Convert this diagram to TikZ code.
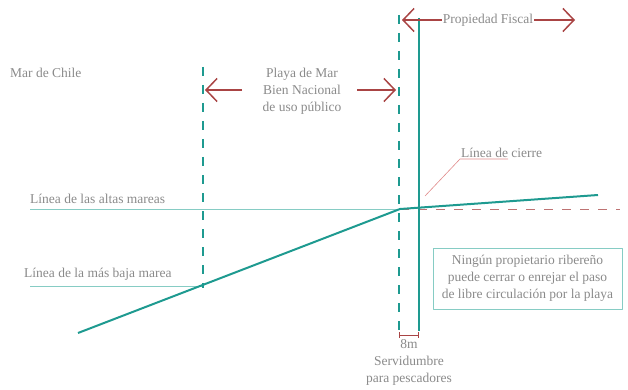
\documentclass[tikz,border=0pt]{standalone}
\usepackage{fontspec}
\setmainfont{Liberation Serif}
\usetikzlibrary{arrows.meta}
\definecolor{mar}{HTML}{1E9A90}
\definecolor{marclaro}{HTML}{86CCC4}
\definecolor{rojo}{HTML}{A94444}
\definecolor{rosa}{HTML}{E08A8A}
\definecolor{texto}{HTML}{8A8A8A}
\tikzset{>={Straight Barb[length=11pt,width=23pt]}}
\tikzset{
    etiqueta/.style={text=texto, font=\fontsize{13.5}{17}\selectfont, inner sep=1pt},
    limite/.style={mar, line width=2pt, dash pattern=on 9pt off 9pt},
    flecha/.style={->, rojo, line width=1.5pt},
}

\begin{document}
\begin{tikzpicture}[x=1pt, y=-1pt, line join = round]
    \useasboundingbox (0,0) rectangle (628,390);
    % lineas de marea
    \coordinate (alta0) at (30,209);
    \coordinate (cruce) at (400,209);
    \coordinate (alta1) at (598,195);
    \coordinate (baja0) at (30,286);
    \coordinate (baja1) at (203,286);
    \coordinate (playa0) at (78,333);
    \draw[marclaro, line width=1pt] (alta0) -- (cruce);
    \draw[marclaro, line width=1pt] (baja0) -- (baja1);
    \draw[rojo!75, line width=1pt, dash pattern=on 9pt off 9pt] (cruce) -- (620,209);
    \draw[mar, line width=2pt] (playa0) -- (cruce) -- (alta1);
    % limites verticales
    \draw[limite] (203,67) -- (203,288);
    \draw[limite] (399,15) -- (399,331);
    \draw[mar, line width=2pt] (419,18) -- (419,331);
    % textos
    \node[etiqueta, anchor=west] (chile) at (9,73) {Mar de Chile};
    \node[etiqueta, anchor=south west] (altas) at (29,205) {Línea de las altas mareas};
    \node[etiqueta, anchor=south west] (bajas) at (23,282) {Línea de la más baja marea};
    \node[etiqueta, align=center] (playa) at (302,91) {Playa de Mar\\Bien Nacional\\de uso público};
    \node[etiqueta] (fiscal) at (488,20) {Propiedad Fiscal};
    \draw[flecha] (fiscal.west) -- (402,20);
    \draw[flecha] (fiscal.east) -- (575,20);
    \draw[flecha] (242,90) -- (205,90);
    \draw[flecha] (357,90) -- (396,90);
    % linea de cierre
    \node[etiqueta, anchor=south west] (cierre) at (460,159) {Línea de cierre};
    \draw[rosa, line width=0.6pt] (425,196) -- (cierre.south west) -- (508,159);
    % aviso
    \node[etiqueta, draw=marclaro, line width=1pt, align=center, minimum width=189pt,
          minimum height=61pt] (aviso) at (527.5,278.5)
          {Ningún propietario ribereño\\puede cerrar o enrejar el paso\\de libre circulación por la playa};
    % servidumbre
    \draw[rojo, line width=1pt, {Bar[width=6pt]}-{Bar[width=6pt]}] (399,335) -- (419,335);
    \node[etiqueta, align=center, anchor=north] (servidumbre) at (409,338)
          {8m\\Servidumbre\\para pescadores};
\end{tikzpicture}
\end{document}
